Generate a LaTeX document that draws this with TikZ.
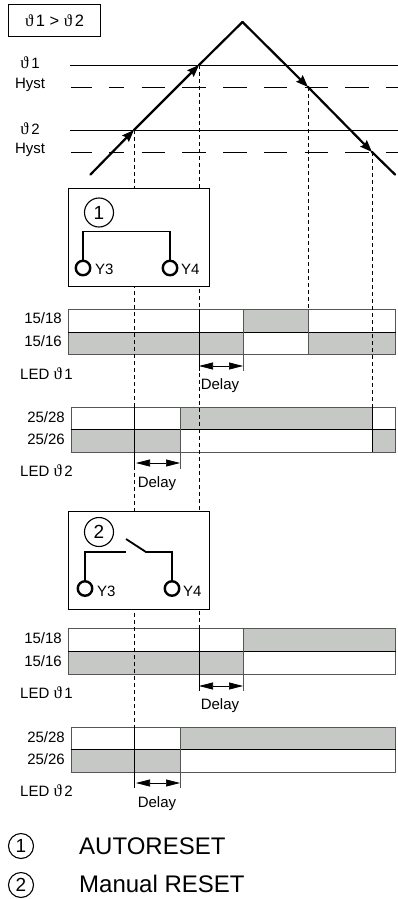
\documentclass[tikz,border=0pt]{standalone}
\usepackage{fontspec}
\setmainfont{Liberation Sans}
\newfontfamily\thetafont{Liberation Serif}
\usepackage{tikz}
\usetikzlibrary{arrows.meta}
\definecolor{relaygray}{RGB}{198, 200, 198}
\definecolor{barline}{RGB}{85, 85, 85}
\newcommand{\thetaone}{{\thetafont\fontsize{17}{17}\selectfont ϑ}\kern2.5pt 1}
\newcommand{\thetatwo}{{\thetafont\fontsize{17}{17}\selectfont ϑ}\kern2.5pt 2}

\begin{document}
\begin{tikzpicture}[x=1pt, y=-1pt, >=Stealth, font=\fontsize{15}{17}\selectfont,
    wave/.style={line width=2.2pt, line cap=round, line join=round},
    wavetip/.style={wave, -{Stealth[length=12pt, width=9pt, inset=1.5pt]}},
    level/.style={line width=0.8pt},
    levelhyst/.style={line width=0.8pt, dash pattern=on 21pt off 17.5pt on 15pt off 17.5pt on 23.5pt off 17.2pt on 23.5pt off 17.2pt on 23.5pt off 17.2pt on 23.5pt off 17.2pt on 23.5pt off 17.2pt on 23.5pt off 17.2pt on 23.5pt off 17.2pt},
    drop/.style={line width=0.7pt, dash pattern=on 4pt off 3pt},
    edge/.style={line width=0.8pt},
    cellon/.style={fill=relaygray, draw=none},
    barbox/.style={draw=barline, line width=0.9pt},
    frame/.style={draw, fill=white, line width=0.9pt},
    wire/.style={line width=1.8pt, line join=miter},
    term/.style={circle, draw, fill=white, line width=2.4pt, minimum size=14.5pt, inner sep=0pt},
    numcirc/.style={circle, draw, line width=1.1pt, inner sep=0pt},
    span/.style={line width=0.7pt, {Stealth[length=14pt, width=7pt, inset=0pt]}-{Stealth[length=14pt, width=7pt, inset=0pt]}},
    lab/.style={inner sep=0pt},
    wirelab/.style={inner sep=0pt, anchor=west, font=\fontsize{15}{17}\selectfont}]
  \useasboundingbox (0,0) rectangle (398,899);

  % Title box
  \node[draw, line width=0.9pt, minimum width=92pt, minimum height=31.5pt, inner sep=0pt, font=\fontsize{16.5}{18}\selectfont] (title) at (54.5,20.5) {\thetaone\ >\ \thetatwo};

  % Levels
  \node[lab] (t1)  at (30,63)  {\thetaone};
  \node[lab] (h1)  at (30,85)  {Hyst};
  \node[lab] (t2)  at (30,129) {\thetatwo};
  \node[lab] (h2)  at (30,150) {Hyst};
  \coordinate (l1a) at (70,65);     \coordinate (l1b) at (398,65);
  \coordinate (l2a) at (70.7,87);   \coordinate (l2b) at (398,87);
  \coordinate (l3a) at (70,130);    \coordinate (l3b) at (398,130);
  \coordinate (l4a) at (70.7,152);  \coordinate (l4b) at (398,152);
  \draw[level] (l1a) -- (l1b);
  \draw[levelhyst] (l2a) -- (l2b);
  \draw[level] (l3a) -- (l3b);
  \draw[levelhyst] (l4a) -- (l4b);

  % Temperature curve
  \coordinate (start) at (90.5,174.5);
  \coordinate (up2)   at (134,130);
  \coordinate (up1)   at (199,65);
  \coordinate (apex)  at (242.5,22);
  \coordinate (dn1)   at (308,87);
  \coordinate (dn2)   at (372,152);
  \coordinate (stop)  at (395,174.5);
  \draw[wavetip] (start) -- (up2);
  \draw[wavetip] (up2) -- (up1);
  \draw[wave] (up1) -- (apex);
  \draw[wavetip] (apex) -- (dn1);
  \draw[wavetip] (dn1) -- (dn2);
  \draw[wave] (dn2) -- (stop);

  % First bars, AUTORESET
  \fill[cellon] (243,309) rectangle (308,332);
  \fill[cellon] (68,332) rectangle (243,354);
  \fill[cellon] (308,332) rectangle (395.5,354);
  \draw[barbox] (68,309) rectangle (395.5,354);
  \draw[edge] (68,332) -- (395.5,332);
  \draw[barbox] (243,309) -- (243,354);
  \draw[barbox] (308,309) -- (308,354);

  \fill[cellon] (180,407) rectangle (372,429.5);
  \fill[cellon] (71,429.5) rectangle (180,452);
  \fill[cellon] (372,429.5) rectangle (395.5,452);
  \draw[barbox] (71,407) rectangle (395.5,452);
  \draw[edge] (71,429.5) -- (395.5,429.5);
  \draw[barbox] (180,407) -- (180,452);

  % Second bars, Manual RESET
  \fill[cellon] (243,628) rectangle (395.5,651);
  \fill[cellon] (68,651) rectangle (243,674);
  \draw[barbox] (68,628) rectangle (395.5,674);
  \draw[edge] (68,651) -- (395.5,651);
  \draw[barbox] (243,628) -- (243,674);

  \fill[cellon] (180,727) rectangle (395.5,749);
  \fill[cellon] (71,749) rectangle (180,772);
  \draw[barbox] (71,727) rectangle (395.5,772);
  \draw[edge] (71,749) -- (395.5,749);
  \draw[barbox] (180,727) -- (180,772);

  % Drop lines
  \coordinate (a0) at (134,130);  \coordinate (a1) at (134,727);
  \coordinate (a2) at (134,788);
  \coordinate (b0) at (199,65);   \coordinate (b1) at (199,628);
  \coordinate (b2) at (199,691);
  \coordinate (c0) at (308,87);   \coordinate (c1) at (308,309);
  \coordinate (d0) at (372,152);  \coordinate (d1) at (372,407);
  \coordinate (d2) at (372,452);
  \coordinate (b3) at (199,309);  \coordinate (b4) at (199,371);
  \coordinate (a3) at (134,407);  \coordinate (a4) at (134,469);
  \draw[drop] (a0) -- (a1);
  \draw[drop] (b0) -- (b1);
  \draw[drop] (c0) -- (c1);
  \draw[drop] (d0) -- (d1);
  \draw[edge] (a1) -- (a2);
  \draw[edge] (b1) -- (b2);
  \draw[edge] (d1) -- (d2);
  \draw[edge] (b3) -- (b4);
  \draw[edge] (a3) -- (a4);

  % Contact boxes
  \node[frame, minimum width=140.5pt, minimum height=98pt, inner sep=0pt] (box1) at (138.75,237) {};
  \node[numcirc, minimum size=29pt, font=\fontsize{19}{21}\selectfont] (num1) at (99,212.5) {1};
  \node[term] (y3a) at (83,268) {};
  \node[term] (y4a) at (170,268) {};
  \node[wirelab] (y3atxt) at (95,269.5) {Y3};
  \node[wirelab] (y4atxt) at (181,269.5) {Y4};
  \coordinate (w1) at (83,231.5);
  \coordinate (w2) at (170,231.5);
  \draw[wire] (y3a) -- (w1) -- (w2) -- (y4a);

  \node[frame, minimum width=140.5pt, minimum height=98pt, inner sep=0pt] (box2) at (138.75,560) {};
  \node[numcirc, minimum size=29pt, font=\fontsize{19}{21}\selectfont] (num2) at (99,532) {2};
  \node[term] (y3b) at (85,588.5) {};
  \node[term] (y4b) at (172,588.5) {};
  \node[wirelab] (y3btxt) at (97,591) {Y3};
  \node[wirelab] (y4btxt) at (183,591) {Y4};
  \coordinate (w3) at (85,552);
  \coordinate (w4) at (126,552);
  \coordinate (w5) at (172,552);
  \coordinate (w6) at (146,552);
  \coordinate (w7) at (126,539);
  \draw[wire] (y3b) -- (w3) -- (w4);
  \draw[wire] (y4b) -- (w5) -- (w6) -- (w7);

  % Bar labels
  \node[lab, anchor=east] (b118) at (62,318) {15/18};
  \node[lab, anchor=east] (b116) at (62,341) {15/16};
  \node[lab, anchor=west] (led1) at (20,374) {LED \thetaone};
  \node[lab, anchor=east] (b228) at (65,417) {25/28};
  \node[lab, anchor=east] (b226) at (65,439) {25/26};
  \node[lab, anchor=west] (led2) at (20,471) {LED \thetatwo};
  \node[lab, anchor=east] (c118) at (62,638) {15/18};
  \node[lab, anchor=east] (c116) at (62,661) {15/16};
  \node[lab, anchor=west] (led3) at (20,692.5) {LED \thetaone};
  \node[lab, anchor=east] (c228) at (65,737) {25/28};
  \node[lab, anchor=east] (c226) at (65,759) {25/26};
  \node[lab, anchor=west] (led4) at (20,791) {LED \thetatwo};

  % Delays
  \coordinate (e1) at (243,371);  \coordinate (e2) at (180,469);
  \coordinate (e3) at (243,691);  \coordinate (e4) at (180,788);
  \coordinate (s1l) at (199,366); \coordinate (s1r) at (243,366);
  \coordinate (s2l) at (136,463); \coordinate (s2r) at (180,463);
  \coordinate (s3l) at (199,686); \coordinate (s3r) at (243,686);
  \coordinate (s4l) at (136,783); \coordinate (s4r) at (180,783);
  \coordinate (e1t) at (243,354); \coordinate (e2t) at (180,452);
  \coordinate (e3t) at (243,674); \coordinate (e4t) at (180,772);
  \draw[barbox] (e1t) -- (e1);
  \draw[barbox] (e2t) -- (e2);
  \draw[barbox] (e3t) -- (e3);
  \draw[barbox] (e4t) -- (e4);
  \draw[span] (s1l) -- (s1r);
  \draw[span] (s2l) -- (s2r);
  \draw[span] (s3l) -- (s3r);
  \draw[span] (s4l) -- (s4r);
  \node[lab] (d1txt) at (220,386) {Delay};
  \node[lab] (d2txt) at (157,484) {Delay};
  \node[lab] (d3txt) at (220,706) {Delay};
  \node[lab] (d4txt) at (157,804) {Delay};

  % Legend
  \node[numcirc, minimum size=25pt, font=\fontsize{19}{21}\selectfont] (key1) at (21,846) {1};
  \node[numcirc, minimum size=25pt, font=\fontsize{19}{21}\selectfont] (key2) at (21,885) {2};
  \node[lab, anchor=west, font=\fontsize{24}{26}\selectfont] (auto) at (79,846) {AUTORESET};
  \node[lab, anchor=west, font=\fontsize{24}{26}\selectfont] (manual) at (79,884) {Manual RESET};
\end{tikzpicture}
\end{document}
